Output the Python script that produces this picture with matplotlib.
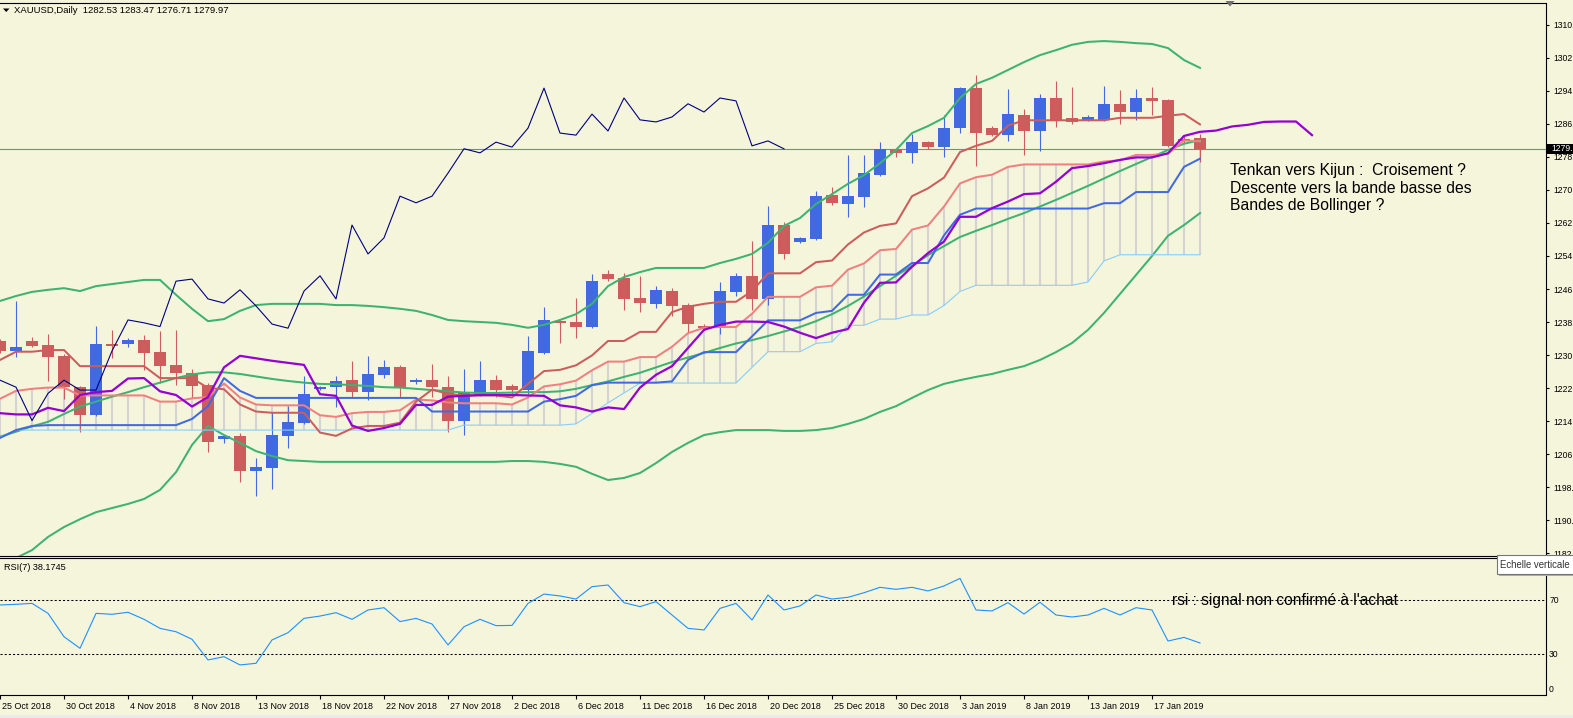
import matplotlib
matplotlib.use("Agg")
import matplotlib.pyplot as plt
import matplotlib.transforms as mtransforms
from matplotlib.patches import Rectangle, Polygon
import numpy as np

plt.rcParams['font.family'] = ['Liberation Sans', 'DejaVu Sans']

# ---------------------------------------------------------------- data
symbol_title = "XAUUSD,Daily  1282.53 1283.47 1276.71 1279.97"
rsi_title = "RSI(7) 38.1745"

date_labels = ["25 Oct 2018", "30 Oct 2018", "4 Nov 2018", "8 Nov 2018", "13 Nov 2018",
               "18 Nov 2018", "22 Nov 2018", "27 Nov 2018", "2 Dec 2018", "6 Dec 2018",
               "11 Dec 2018", "16 Dec 2018", "20 Dec 2018", "25 Dec 2018", "30 Dec 2018",
               "3 Jan 2019", "8 Jan 2019", "13 Jan 2019", "17 Jan 2019"]
bars_per_label = 4

opens = [1233.5, 1231.0, 1233.4, 1232.4, 1229.8, 1222.3, 1215.5, 1232.6, 1232.6, 1233.6,
         1230.7, 1227.6, 1225.6, 1222.7, 1209.7, 1210.4, 1202.0, 1202.7, 1210.4, 1213.6,
         1221.7, 1222.2, 1223.9, 1221.1, 1225.2, 1227.2, 1223.5, 1223.9, 1222.3, 1214.1,
         1220.5, 1223.9, 1222.5, 1221.5, 1230.6, 1238.3, 1238.0, 1236.9, 1249.6, 1248.7,
         1243.8, 1242.4, 1245.5, 1242.1, 1237.0, 1236.6, 1245.3, 1249.2, 1243.6, 1261.5,
         1257.4, 1258.1, 1268.8, 1266.6, 1268.3, 1273.6, 1280.0, 1279.0, 1281.6, 1280.4,
         1285.0, 1294.7, 1285.0, 1283.3, 1288.2, 1284.3, 1292.3, 1287.5, 1287.0, 1287.0,
         1290.9, 1288.9, 1292.3, 1291.8, 1282.4, 1282.53]
highs = [1234.0, 1243.2, 1234.3, 1235.1, 1230.2, 1222.5, 1237.0, 1236.1, 1234.1, 1234.8,
         1235.7, 1236.1, 1226.6, 1223.1, 1210.6, 1211.2, 1205.0, 1216.3, 1217.7, 1224.9,
         1222.5, 1224.9, 1228.6, 1229.8, 1228.8, 1227.5, 1224.4, 1227.8, 1224.9, 1226.6,
         1228.6, 1225.1, 1223.0, 1234.6, 1241.6, 1238.6, 1243.8, 1249.6, 1250.6, 1249.9,
         1249.2, 1246.7, 1246.2, 1242.6, 1237.5, 1247.7, 1249.9, 1257.6, 1266.1, 1262.2,
         1258.6, 1269.8, 1270.7, 1278.5, 1278.5, 1281.6, 1280.2, 1283.6, 1281.8, 1288.2,
         1295.0, 1297.9, 1285.5, 1294.5, 1289.6, 1293.3, 1296.4, 1295.0, 1288.2, 1295.2,
         1294.2, 1294.5, 1295.0, 1292.0, 1283.0, 1283.47]
lows = [1230.5, 1229.6, 1232.0, 1223.8, 1219.4, 1211.4, 1215.3, 1229.2, 1232.0, 1226.4,
        1223.1, 1222.7, 1219.5, 1206.4, 1208.7, 1199.1, 1195.8, 1197.4, 1207.5, 1213.3,
        1221.5, 1217.5, 1219.5, 1219.1, 1224.4, 1219.9, 1222.9, 1219.9, 1211.4, 1210.6,
        1220.0, 1219.9, 1220.5, 1220.5, 1230.2, 1232.8, 1234.2, 1236.5, 1248.0, 1240.9,
        1240.4, 1241.4, 1239.5, 1235.5, 1236.0, 1235.1, 1244.3, 1240.9, 1242.1, 1253.3,
        1257.2, 1257.8, 1266.4, 1263.4, 1265.9, 1273.3, 1278.0, 1276.6, 1280.0, 1278.0,
        1283.8, 1275.8, 1283.0, 1281.9, 1278.5, 1279.5, 1285.3, 1286.0, 1286.8, 1286.8,
        1286.0, 1287.0, 1288.2, 1280.4, 1281.5, 1276.71]
closes = [1231.0, 1231.9, 1232.3, 1229.6, 1222.2, 1215.5, 1232.7, 1232.3, 1233.6, 1230.6,
          1227.4, 1225.6, 1222.6, 1209.0, 1210.4, 1202.0, 1202.8, 1210.6, 1213.7, 1220.5,
          1222.3, 1223.7, 1221.1, 1225.4, 1227.2, 1222.2, 1223.9, 1222.2, 1214.1, 1220.7,
          1223.9, 1221.5, 1221.5, 1231.0, 1238.5, 1237.8, 1236.9, 1247.9, 1248.4, 1243.6,
          1242.6, 1245.8, 1241.9, 1237.5, 1236.5, 1245.5, 1249.2, 1243.6, 1261.5, 1254.5,
          1258.4, 1268.5, 1266.9, 1268.5, 1274.1, 1280.0, 1279.0, 1281.6, 1280.4, 1285.0,
          1294.7, 1283.8, 1283.3, 1288.4, 1284.3, 1292.3, 1287.0, 1286.5, 1287.7, 1290.9,
          1288.9, 1292.3, 1291.6, 1280.7, 1281.9, 1279.97]

tenkan = [1228.8, 1230.8, 1230.8, 1231.2, 1231.2, 1227.3, 1227.3, 1227.3, 1227.3, 1227.3,
          1224.4, 1224.4, 1224.4, 1222.0, 1221.7, 1218.0, 1216.3, 1216.0, 1216.0, 1216.0,
          1211.2, 1210.4, 1212.2, 1212.8, 1212.8, 1213.6, 1218.7, 1221.6, 1220.6, 1220.2,
          1220.2, 1220.2, 1219.7, 1223.0, 1226.1, 1226.4, 1227.5, 1229.9, 1233.4, 1233.4,
          1235.6, 1235.6, 1240.4, 1241.7, 1242.4, 1242.9, 1242.9, 1245.5, 1249.8, 1249.8,
          1249.8, 1252.5, 1252.9, 1256.8, 1259.7, 1261.3, 1261.9, 1268.5, 1270.4, 1273.0,
          1279.2, 1280.7, 1281.9, 1285.6, 1286.9, 1286.9, 1286.9, 1286.9, 1286.9, 1286.9,
          1287.5, 1287.5, 1287.5, 1288.0, 1288.4, 1285.9]
kijun = [1209.9, 1211.8, 1212.8, 1213.0, 1213.0, 1213.0, 1213.0, 1213.0, 1213.0, 1213.0,
         1213.0, 1213.0, 1214.5, 1217.6, 1224.4, 1221.3, 1219.6, 1219.6, 1219.6, 1219.6,
         1219.6, 1219.6, 1219.6, 1219.6, 1219.6, 1219.6, 1219.6, 1216.3, 1216.3, 1216.3,
         1216.3, 1216.3, 1216.3, 1216.3, 1218.7, 1219.3, 1220.1, 1222.7, 1223.3, 1223.3,
         1223.3, 1223.3, 1223.6, 1228.8, 1230.7, 1230.7, 1230.7, 1234.5, 1238.4, 1238.4,
         1238.4, 1240.2, 1240.7, 1244.6, 1244.6, 1249.5, 1249.5, 1252.3, 1252.3, 1259.0,
         1264.0, 1265.5, 1265.5, 1265.5, 1265.5, 1265.5, 1265.5, 1265.5, 1265.5, 1266.8,
         1266.8, 1269.5, 1269.5, 1269.5, 1275.6, 1277.6]
span_a = [1219.4, 1221.3, 1221.8, 1222.1, 1222.1, 1220.2, 1220.2, 1220.2, 1220.2, 1220.2,
          1218.7, 1218.7, 1219.5, 1219.8, 1223.1, 1219.7, 1218.0, 1217.8, 1217.8, 1217.8,
          1215.4, 1215.0, 1215.9, 1216.2, 1216.2, 1216.6, 1219.2, 1219.0, 1218.5, 1218.3,
          1218.3, 1218.3, 1218.0, 1219.7, 1222.4, 1222.9, 1223.8, 1226.3, 1228.4, 1228.4,
          1229.5, 1229.5, 1232.0, 1235.3, 1236.6, 1236.8, 1236.8, 1240.0, 1244.1, 1244.1,
          1244.1, 1246.4, 1246.8, 1250.7, 1252.2, 1255.4, 1255.7, 1260.4, 1261.4, 1266.0,
          1271.6, 1273.1, 1273.7, 1275.6, 1276.2, 1276.2, 1276.2, 1276.2, 1276.2, 1276.9,
          1277.2, 1278.5, 1278.5, 1278.8, 1282.0, 1281.8]
span_b = [1210.1, 1211.8, 1211.8, 1211.8, 1211.8, 1211.8, 1211.8, 1211.8, 1211.8, 1211.8,
          1211.8, 1211.8, 1211.8, 1211.8, 1211.8, 1211.8, 1211.8, 1211.8, 1211.8, 1211.8,
          1211.8, 1211.8, 1211.8, 1211.8, 1211.8, 1211.8, 1211.8, 1211.8, 1211.8, 1213.0,
          1213.0, 1213.0, 1213.0, 1213.0, 1213.0, 1213.0, 1213.3, 1215.8, 1218.4, 1220.8,
          1223.2, 1223.2, 1223.2, 1223.2, 1223.2, 1223.2, 1223.2, 1227.0, 1230.8, 1230.8,
          1230.8, 1232.8, 1233.2, 1237.2, 1237.2, 1238.7, 1238.7, 1239.7, 1239.7, 1242.0,
          1245.4, 1246.9, 1246.9, 1246.9, 1246.9, 1246.9, 1246.9, 1246.9, 1247.7, 1252.8,
          1254.3, 1254.3, 1254.3, 1254.3, 1254.3, 1254.3]
violet_line = [1215.9, 1215.6, 1215.6, 1217.2, 1216.4, 1220.3, 1221.0, 1221.3, 1224.3, 1224.4,
               1221.2, 1220.3, 1217.5, 1219.8, 1227.0, 1229.8, 1229.2, 1228.6, 1228.1, 1227.6,
               1220.5, 1220.1, 1212.9, 1211.6, 1212.3, 1213.3, 1217.9, 1217.9, 1219.9, 1220.1,
               1220.3, 1220.3, 1220.3, 1220.2, 1220.1, 1217.8, 1217.3, 1216.3, 1217.3, 1216.9,
               1222.1, 1225.2, 1227.3, 1231.7, 1236.1, 1237.3, 1238.1, 1238.1, 1238.0, 1236.9,
               1235.4, 1234.1, 1235.4, 1236.3, 1242.7, 1247.5, 1247.6, 1251.4, 1254.7, 1257.5,
               1263.5, 1263.5, 1265.6, 1267.2, 1269.0, 1269.2, 1272.0, 1275.3, 1275.8, 1276.5,
               1277.3, 1277.9, 1277.9, 1278.9, 1283.1, 1284.1, 1284.4, 1285.4, 1285.8, 1286.5,
               1286.6, 1286.6, 1283.3]
bb_upper = [1243.1, 1244.3, 1245.3, 1245.8, 1246.2, 1245.5, 1246.7, 1247.2, 1247.7, 1248.2,
            1248.2, 1244.6, 1241.2, 1238.2, 1238.7, 1240.7, 1242.1, 1242.4, 1242.4, 1242.4,
            1242.4, 1242.1, 1242.1, 1241.9, 1241.6, 1241.2, 1240.7, 1239.7, 1238.5, 1238.2,
            1238.0, 1237.8, 1237.3, 1236.6, 1237.3, 1238.5, 1239.9, 1242.4, 1246.7, 1248.9,
            1250.1, 1251.1, 1251.1, 1251.1, 1251.1, 1252.3, 1253.3, 1254.5, 1257.2, 1261.3,
            1263.2, 1266.6, 1269.0, 1271.5, 1273.6, 1276.5, 1279.7, 1283.8, 1285.5, 1287.5,
            1292.3, 1295.7, 1297.2, 1299.1, 1301.0, 1302.7, 1303.9, 1305.2, 1305.9, 1306.1,
            1305.9, 1305.6, 1305.4, 1304.4, 1301.5, 1299.6]
bb_mid = [1210.2, 1211.4, 1212.7, 1213.8, 1215.7, 1217.5, 1218.7, 1219.9, 1221.0, 1222.2,
          1223.3, 1224.4, 1225.3, 1225.8, 1225.8, 1225.4, 1224.8, 1224.2, 1223.7, 1223.3,
          1223.0, 1222.9, 1222.7, 1222.5, 1222.2, 1222.1, 1221.8, 1221.5, 1221.2, 1220.9,
          1220.8, 1220.8, 1220.9, 1221.0, 1221.0, 1221.2, 1221.8, 1222.7, 1223.6, 1224.7,
          1225.7, 1227.0, 1228.3, 1229.4, 1230.5, 1231.7, 1232.8, 1233.6, 1234.6, 1235.7,
          1236.8, 1238.2, 1239.9, 1241.9, 1244.2, 1246.7, 1249.2, 1251.6, 1254.2, 1256.4,
          1258.6, 1260.1, 1261.5, 1263.0, 1264.4, 1266.0, 1267.6, 1269.3, 1271.0, 1272.8,
          1274.6, 1276.3, 1278.0, 1279.7, 1281.2, 1282.1]
bb_lower = [1178.4, 1180.8, 1182.7, 1185.9, 1188.3, 1190.2, 1191.9, 1192.9, 1193.9, 1195.1,
            1197.3, 1201.6, 1208.2, 1212.8, 1210.6, 1208.7, 1206.7, 1205.5, 1204.5, 1204.3,
            1204.1, 1204.1, 1204.1, 1204.1, 1204.1, 1204.1, 1204.1, 1204.1, 1204.1, 1204.1,
            1204.1, 1204.1, 1204.3, 1204.3, 1204.1, 1203.6, 1202.9, 1201.2, 1199.7, 1200.2,
            1201.4, 1203.8, 1206.5, 1208.7, 1210.6, 1211.3, 1211.8, 1211.8, 1211.8, 1211.6,
            1211.6, 1211.8, 1212.3, 1213.3, 1214.5, 1216.2, 1217.6, 1219.6, 1221.5, 1223.0,
            1223.9, 1224.7, 1225.4, 1226.4, 1227.3, 1228.8, 1230.7, 1232.9, 1236.1, 1240.2,
            1244.8, 1249.4, 1254.0, 1258.9, 1261.5, 1264.4]
rsi = [66.3, 66.8, 67.5, 60.1, 42.8, 34.2, 60.1, 59.4, 60.9, 55.7,
       49.0, 46.5, 40.9, 25.6, 28.0, 21.9, 23.1, 40.4, 45.8, 56.4,
       58.1, 60.6, 55.7, 62.6, 64.3, 54.0, 56.4, 52.2, 36.7, 50.2,
       55.7, 51.0, 51.2, 67.5, 74.4, 73.0, 70.7, 79.9, 81.1, 68.0,
       65.1, 68.8, 58.9, 49.0, 47.8, 63.8, 67.5, 55.2, 73.7, 62.6,
       65.6, 73.7, 70.7, 72.0, 75.4, 79.4, 77.9, 79.4, 76.7, 80.4,
       86.0, 62.6, 61.9, 68.0, 59.6, 68.3, 58.9, 57.4, 58.9, 63.8,
       58.9, 64.3, 62.6, 39.6, 42.3, 38.17]

chikou_shift = 26
bid_price = 1279.97
price_ticks = [1310, 1302, 1294, 1286, 1278, 1270, 1262, 1254, 1246, 1238, 1230,
               1222, 1214, 1206, 1198, 1190, 1182]
rsi_levels = [70, 30]
rsi_ticks = [0, 30, 70]

note_lines = ["Tenkan vers Kijun :  Croisement ?",
              "Descente vers la bande basse des",
              "Bandes de Bollinger ?"]
rsi_note = "rsi : signal non confirmé à l'achat"
tooltip = "Echelle verticale"

# ---------------------------------------------------------------- style
BG = '#F5F5DC'
BULL = '#4169E1'
BEAR = '#CD5C5C'
GREEN = '#3CB371'
W, H = 1573, 718

fig = plt.figure(figsize=(W / 100, H / 100), dpi=100, facecolor=BG)


def fr(xp, yp):
    return xp / W, 1 - yp / H


AX_R = 1545.5
main_top, main_bot = 2.5, 555.7
rsi_top, rsi_bot = 557.7, 694.5
ax = fig.add_axes([0, 1 - main_bot / H, AX_R / W, (main_bot - main_top) / H])
axr = fig.add_axes([0, 1 - rsi_bot / H, AX_R / W, (rsi_bot - rsi_top) / H])

for a in (ax, axr):
    a.set_facecolor(BG)
    a.spines['left'].set_visible(False)
    for s in ('top', 'right', 'bottom'):
        a.spines[s].set_color('black')
        a.spines[s].set_linewidth(0.8)
    a.set_xlim(-0.001, AX_R / 16)

ax.set_ylim(1181.35, 1315.45)
axr.set_ylim(0, 101.33)

x = np.arange(len(closes))
o = np.array(opens); c = np.array(closes)
hi = np.array(highs); lo = np.array(lows)

# cloud hatching
ax.vlines(x, span_b, span_a, colors='#D3D3D3', lw=1.5, zorder=1)
# bid line
ax.axhline(bid_price, color='#778899', lw=0.8, zorder=1.2)

# candles
col = np.where(c >= o, BULL, BEAR)
ax.vlines(x, lo, hi, colors=col, lw=0.8, zorder=2)
body_lo = np.minimum(o, c)
body_h = np.maximum(np.abs(c - o), 0.3)
ax.bar(x, body_h, bottom=body_lo, width=0.69, color=col, edgecolor='none', zorder=2.1)

# Bollinger bands
for band in (bb_upper, bb_mid, bb_lower):
    ax.plot(x, band, color=GREEN, lw=1.45, zorder=3)

# Ichimoku-style lines
ax.plot(x, span_b, color='#87CEFA', lw=0.8, zorder=3.1)
ax.plot(x, span_a, color='#F08080', lw=1.45, zorder=3.2)
ax.plot(x, kijun, color=BULL, lw=1.45, zorder=3.3)
ax.plot(x, tenkan, color=BEAR, lw=1.45, zorder=3.4)
ax.plot(np.arange(len(violet_line)), violet_line, color='#9400D3', lw=1.6, zorder=3.5)
chikou = closes[chikou_shift:]
ax.plot(np.arange(len(chikou)), chikou, color='#000080', lw=0.8, zorder=3.6)

# price axis (labels shown as they appear at the window edge)
ax.set_xticks([])
ax.yaxis.tick_right()
ax.set_yticks(price_ticks)
ax.set_yticklabels([f"{v}." for v in price_ticks])
ax.tick_params(axis='y', direction='out', length=2.5, width=0.8, pad=3.0,
               labelsize=6.2, colors='black')
bt = mtransforms.blended_transform_factory(ax.transAxes, ax.transData)
ax.add_patch(Rectangle((1.0008, bid_price - 1.25), 0.03, 2.5, transform=bt,
                       facecolor='black', edgecolor='none', clip_on=False, zorder=9))
ax.text(1.0038, bid_price, f"{int(bid_price)}.", transform=bt, color='white',
        fontsize=6.2, va='center', ha='left', zorder=10)

# RSI panel
axr.plot(x, rsi, color='#1E90FF', lw=0.8, zorder=3)
for lv in rsi_levels:
    axr.axhline(lv, color='black', lw=0.75, linestyle=(0, (2, 2)), zorder=2)
axr.yaxis.tick_right()
axr.set_yticks(rsi_ticks)
axr.set_yticklabels([str(v) for v in rsi_ticks])
axr.tick_params(axis='y', length=0, pad=2.6, labelsize=6.2)
for lab in axr.get_yticklabels():
    if lab.get_text() == '0':
        lab.set_va('bottom')

label_pos = [bars_per_label * k for k in range(len(date_labels))]
axr.set_xticks(label_pos)
axr.set_xticklabels(date_labels)
axr.tick_params(axis='x', direction='out', length=3, width=0.8, pad=2.6, labelsize=6.4)
off = mtransforms.ScaledTranslation(1.5 / 100, 0, fig.dpi_scale_trans)
for lab in axr.get_xticklabels():
    lab.set_ha('left')
    lab.set_transform(lab.get_transform() + off)

# texts
fig.text(*fr(14, 10.5), symbol_title, fontsize=6.8, va='center', ha='left')
fig.add_artist(Polygon([fr(3, 8.5), fr(9.5, 8.5), fr(6.25, 12)], closed=True,
                       transform=fig.transFigure, facecolor='black', edgecolor='none'))
fig.text(*fr(3.5, 567.5), rsi_title, fontsize=6.6, va='center', ha='left')

for k, line in enumerate(note_lines):
    fig.text(*fr(1229.5, 175 + 17.7 * k), line, fontsize=11.3, va='baseline', ha='left')
fig.text(*fr(1171.5, 605), rsi_note, fontsize=11.2, va='baseline', ha='left')

# chart-shift marker
fig.add_artist(Polygon([fr(1225.5, 1), fr(1234.5, 1), fr(1230, 6.5)], closed=True,
                       transform=fig.transFigure, facecolor='#707070', edgecolor='none'))


def prect(x0, y0, x1, y1, **kw):
    return Rectangle((x0 / W, 1 - y1 / H), (x1 - x0) / W, (y1 - y0) / H,
                     transform=fig.transFigure, **kw)


# tooltip
fig.add_artist(prect(1498.5, 557, 1580, 575.5, facecolor='#B0B0B0', edgecolor='none'))
fig.add_artist(prect(1496.5, 555, 1578, 573.5, facecolor='white', edgecolor='#767676', lw=0.8))
fig.text(*fr(1500.5, 568.5), tooltip, fontsize=6.9, va='baseline', ha='left', color='#333333')

# bottom strip
fig.add_artist(prect(0, 715, W, 718, facecolor='#EBEBEB', edgecolor='none'))

fig.savefig('out.png', dpi=100, facecolor=BG)
